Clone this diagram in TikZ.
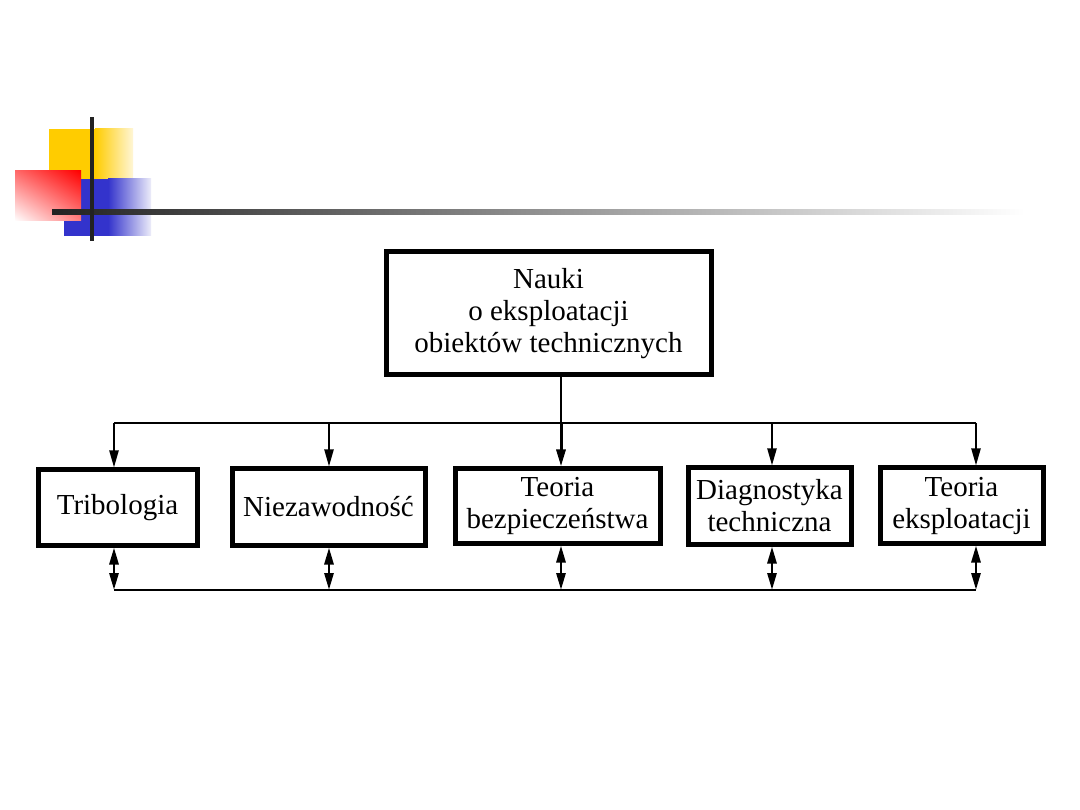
\documentclass[tikz,border=0pt]{standalone}
\usepackage{fontspec}
\setmainfont{Liberation Serif}
\usetikzlibrary{arrows.meta,shadings}
\definecolor{dyellow}{HTML}{FFCC00}
\definecolor{lyellow}{HTML}{FFF6D6}
\definecolor{dblue}{HTML}{3333CC}
\definecolor{lblue}{HTML}{ECECF9}
\definecolor{dline}{HTML}{222222}
\definecolor{mred}{HTML}{FF6A6A}
\begin{document}
\begin{tikzpicture}[x=1pt,y=-1pt,
  box/.style={draw=black,line width=5pt,fill=white,align=center,
    font=\fontsize{29}{32}\selectfont,inner sep=0pt},
  bus/.style={line width=2.3pt},
  down/.style={line width=2.2pt,-{Triangle[length=17pt,width=9pt]}},
  downthick/.style={line width=3pt,-{Triangle[length=17pt,width=9pt]}},
  both/.style={line width=2.8pt,{Triangle[length=17pt,width=9pt]}-{Triangle[length=17pt,width=9pt]}}]
\useasboundingbox (0,0) rectangle (1080,810);
\fill[white] (0,0) rectangle (1080,810);
% decoration
\fill[dyellow] (49,129) rectangle (95,180);
\shade[left color=dyellow,right color=lyellow] (95,129) rectangle (133,180);
\fill[dblue] (64,179) rectangle (108,236);
\shade[left color=dblue,right color=lblue] (108,179) rectangle (151,236);
\shade[upper left=mred,upper right=red,lower left=white,lower right=mred!85!white] (15,171) rectangle (81,221);
\shade[left color=dline,right color=white] (52,210) rectangle (1025,215);
\fill[dline] (90,117) rectangle (94,241);
% nodes
\node[box,minimum width=325pt,minimum height=123pt] (top) at (548.5,313.5)
  {Nauki\\o eksploatacji\\obiektów technicznych};
\node[box,minimum width=159pt,minimum height=75pt] (trib) at (117.5,507.5) {Tribologia};
\node[box,minimum width=193pt,minimum height=76pt] (niez) at (328.5,507) {Niezawodność};
\node[box,minimum width=205pt,minimum height=74pt] (teor) at (557.5,506) {Teoria\\bezpieczeństwa};
\node[box,minimum width=163pt,minimum height=76pt] (diag) at (769.5,506) {Diagnostyka\\techniczna};
\node[box,minimum width=163pt,minimum height=75pt] (eksp) at (961.5,505.5) {Teoria\\eksploatacji};
% bus coordinates
\coordinate (a1) at (114,423);
\coordinate (a2) at (329,423);
\coordinate (a3) at (561,423);
\coordinate (a4) at (772,423);
\coordinate (a5) at (976,423);
\coordinate (b1) at (114,590);
\coordinate (b2) at (329,590);
\coordinate (b3) at (561,590);
\coordinate (b4) at (772,590);
\coordinate (b5) at (976,590);
% connectors
\draw[line width=2.8pt] (top.south -| a3) -- (a3);
\draw[bus] (a1) -- (a5);
\draw[bus] (b1) -- (b5);
\draw[down] (a1) -- (trib.north -| a1);
\draw[down] (a2) -- (niez.north -| a2);
\draw[downthick] (a3) -- (teor.north -| a3);
\draw[down] (a4) -- (diag.north -| a4);
\draw[down] (a5) -- (eksp.north -| a5);
\draw[both] (trib.south -| b1) -- (b1);
\draw[both] (niez.south -| b2) -- (b2);
\draw[both] (teor.south -| b3) -- (b3);
\draw[both] (diag.south -| b4) -- (b4);
\draw[both] (eksp.south -| b5) -- (b5);
\end{tikzpicture}
\end{document}
